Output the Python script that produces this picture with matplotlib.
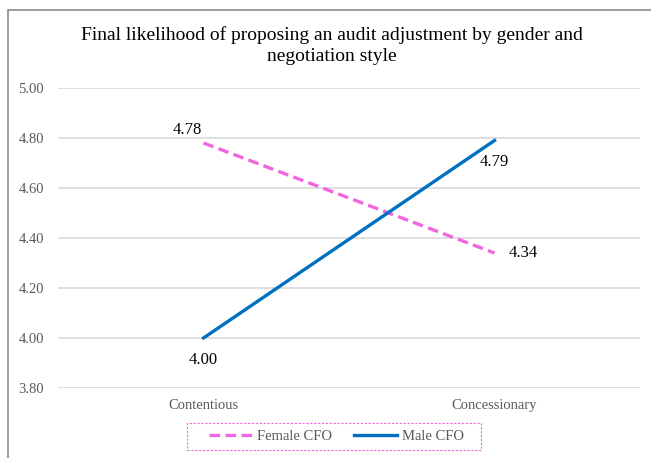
import matplotlib.pyplot as plt
from matplotlib.patches import Rectangle

plt.rcParams['font.family'] = ['Liberation Serif', 'DejaVu Serif']

# data
categories = ["Contentious", "Concessionary"]
female_cfo = [4.78, 4.34]
male_cfo = [4.00, 4.79]
y_ticks = [3.80, 4.00, 4.20, 4.40, 4.60, 4.80, 5.00]

pink = "#F266DD"
blue = "#0070C0"
gray_txt = "#595959"

W, H = 651, 458
fig = plt.figure(figsize=(W / 100, H / 100), dpi=100)
ax = fig.add_axes([58 / W, 1 - 388 / H, 582 / W, 300 / H])

# chart border (cropped on the right and bottom)
fig.patches.append(Rectangle((8 / W, -0.1), 1.2, 1 - 10 / H + 0.1,
                             transform=fig.transFigure, fill=False,
                             edgecolor="#8C8C8C", linewidth=1.2))

x = list(range(len(categories)))
ax.plot(x, female_cfo, color=pink, linewidth=2.4, linestyle=(0, (3.2, 1.6)),
        label="Female CFO", zorder=3)
ax.plot(x, male_cfo, color=blue, linewidth=2.4, label="Male CFO", zorder=3)

# data labels (offsets in points)
offsets_f = [(-12, 9), (20.5, 0)]
offsets_m = [(0, -16), (0, -15.5)]
for i, v in enumerate(female_cfo):
    ax.annotate(f"{v:.2f}", (x[i], v), xytext=offsets_f[i], textcoords="offset points",
                ha="center", va="center", fontsize=12, color="black")
for i, v in enumerate(male_cfo):
    ax.annotate(f"{v:.2f}", (x[i], v), xytext=offsets_m[i], textcoords="offset points",
                ha="center", va="center", fontsize=12, color="black")

ax.set_xlim(-0.5, 1.5)
ax.set_ylim(3.80, 5.00)
ax.set_yticks(y_ticks)
ax.set_yticklabels([f"{t:.2f}" for t in y_ticks])
ax.set_xticks(x)
ax.set_xticklabels(categories)
ax.tick_params(axis="both", length=0, labelsize=10.5, labelcolor=gray_txt)
ax.tick_params(axis="y", pad=10)
ax.tick_params(axis="x", pad=8)
ax.grid(axis="y", color="#D9D9D9", linewidth=1.2)
ax.set_axisbelow(True)
for s in ax.spines.values():
    s.set_visible(False)

# title, two lines
fig.text(332 / W, 1 - 40.5 / H, "Final likelihood of proposing an audit adjustment by gender and",
         ha="center", va="baseline", fontsize=14)
fig.text(332 / W, 1 - 61 / H, "negotiation style",
         ha="center", va="baseline", fontsize=14)

leg = fig.legend(loc="center", bbox_to_anchor=(336.5 / W, 1 - 436.5 / H),
                 ncol=2, frameon=False, fontsize=10.5, handlelength=2.95,
                 columnspacing=1.45, handletextpad=0.35, borderpad=0)
for t in leg.get_texts():
    t.set_color(gray_txt)

# dashed legend frame
fig.patches.append(Rectangle((187.5 / W, 1 - 450 / H), 293.5 / W, 27 / H,
                             transform=fig.transFigure, fill=False,
                             edgecolor=pink, linewidth=0.8, linestyle=(0, (2, 1.5))))

fig.savefig("out.png", dpi=100)
